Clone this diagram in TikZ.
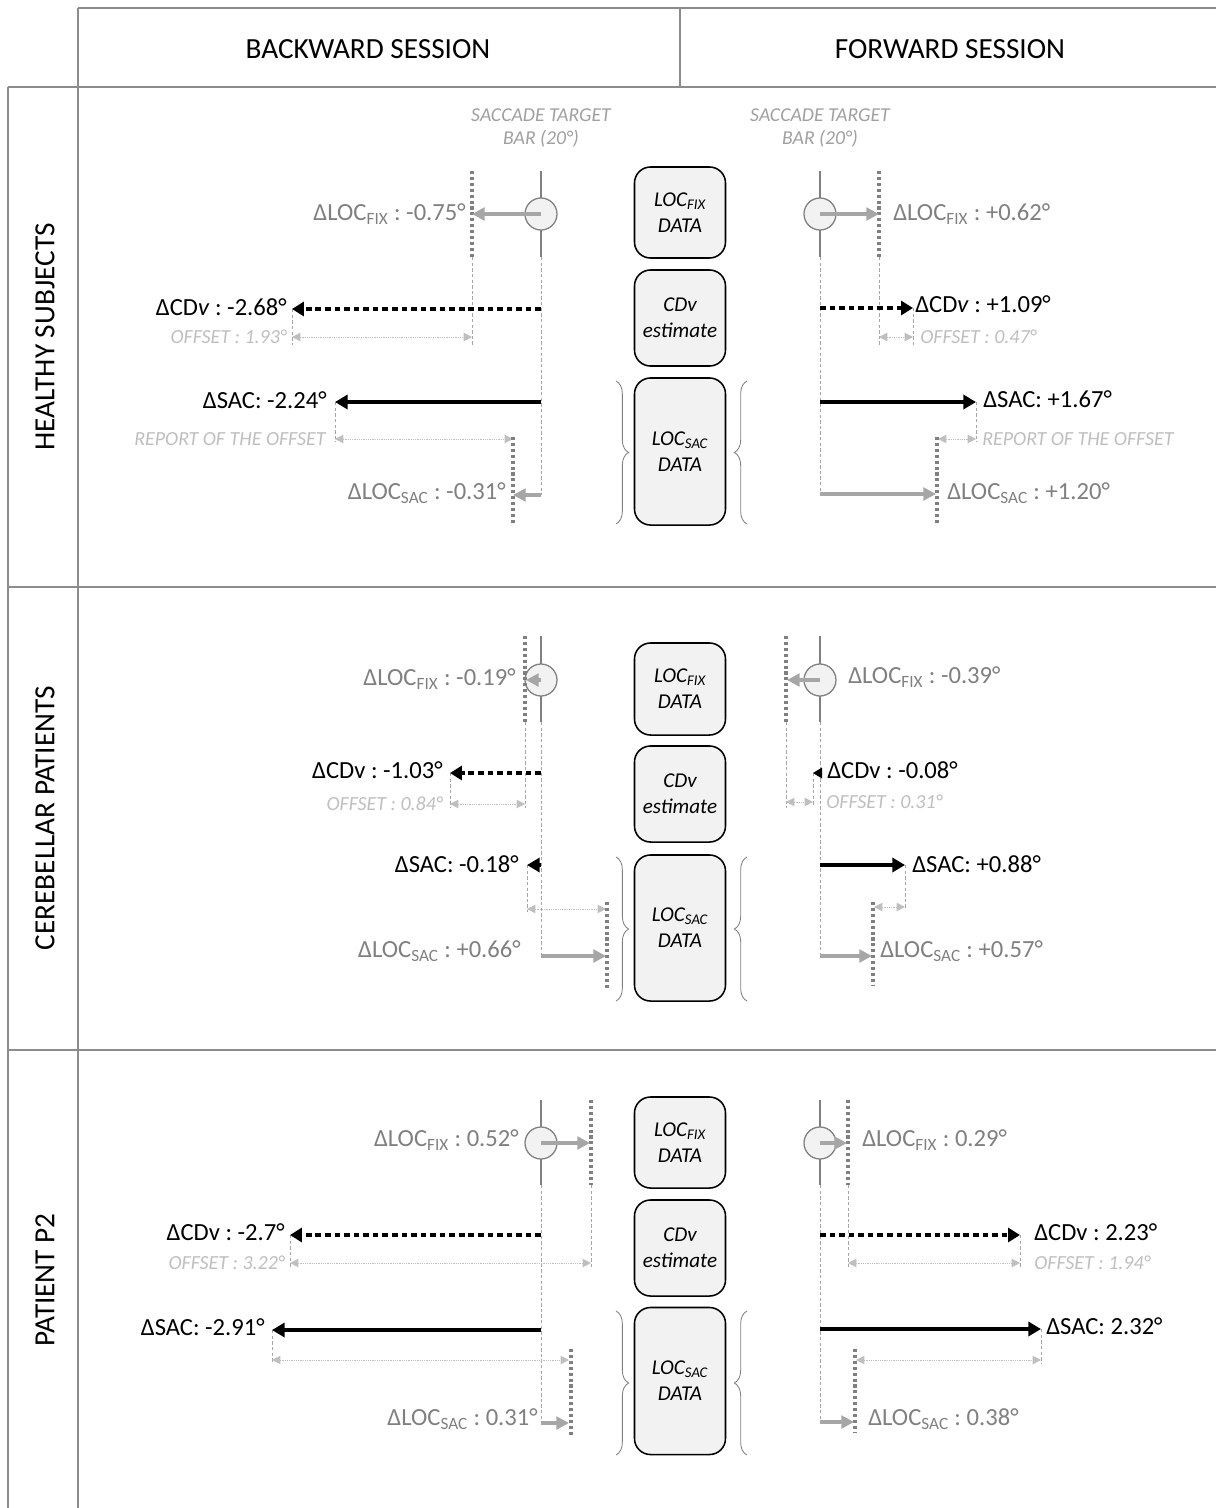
\documentclass[tikz,border=0pt]{standalone}
\usepackage{fontspec}
\setmainfont{Carlito}
\frenchspacing
\usetikzlibrary{arrows.meta,decorations.pathreplacing}
\definecolor{tabgray}{HTML}{8C8C8C}
\definecolor{bargray}{HTML}{808080}
\definecolor{locgray}{HTML}{A6A6A6}
\definecolor{guidegray}{HTML}{A6A6A6}
\definecolor{txtgray}{HTML}{808080}
\definecolor{offgray}{HTML}{BFBFBF}
\definecolor{tgtgray}{HTML}{A0A0A0}
\definecolor{boxfill}{HTML}{F2F2F2}
\begin{document}
\frenchspacing
\begin{tikzpicture}[x=0.025cm,y=-0.025cm,
  tline/.style={draw=tabgray,line width=0.8pt},
  hdr/.style={font=\fontsize{20.8}{24}\selectfont,inner sep=0pt},
  tbar/.style={draw=bargray,line width=1.8pt},
  fixdot/.style={circle,draw=bargray,fill=boxfill,line width=0.9pt,minimum size=0.8cm,inner sep=0pt},
  locline/.style={draw=bargray,line width=2.4pt,dash pattern=on 2.2pt off 2pt},
  guide/.style={draw=guidegray,line width=0.55pt,dash pattern=on 2.4pt off 1.6pt},
  locarrow/.style={draw=locgray,line width=2.6pt,-{Triangle[length=9pt,width=9pt]}},
  cdvarrow/.style={draw=black,line width=2.6pt,dash pattern=on 4pt off 2.8pt,-{Triangle[length=8.5pt,width=10pt]}},
  sacarrow/.style={draw=black,line width=2.9pt,-{Triangle[length=9pt,width=10pt]}},
  offarrow/.style={draw=offgray,line width=0.7pt,dash pattern=on 0.8pt off 0.8pt,{Triangle[length=6pt,width=6pt]}-{Triangle[length=6pt,width=6pt]}},
  databox/.style={draw=black,line width=1.1pt,fill=boxfill,rounded corners=0.4cm,minimum width=2.275cm,align=center,inner sep=0pt,font=\fontsize{15}{18.5}\selectfont\itshape},
  mybrace/.style={draw=bargray,line width=0.6pt,decorate,decoration={brace,amplitude=9pt}},
  blab/.style={font=\fontsize{17.5}{21}\selectfont,text=black,inner sep=0pt},
  glab/.style={blab,text=txtgray},
  olab/.style={font=\fontsize{14.2}{16}\selectfont\itshape,text=offgray,inner sep=0pt},
  tlab/.style={font=\fontsize{14}{17}\selectfont\itshape,text=tgtgray,align=center,inner sep=0pt}
]
\useasboundingbox (0,0) rectangle (1216,1508);
\fill[white] (0,0) rectangle (1216,1508);

% ---------------- table ----------------
\draw[tline] (78,8) -- (1216,8);
\draw[tline] (78,8) -- (78,1508);
\draw[tline] (680,8) -- (680,87);
\draw[tline,line width=1.4pt] (8,87) -- (1216,87);
\draw[tline] (8,87) -- (8,1508);
\draw[tline] (8,587) -- (1216,587);
\draw[tline] (8,1050) -- (1216,1050);

\node[hdr] (hB) at (368,49) {BACKWARD SESSION};
\node[hdr] (hF) at (950,49) {FORWARD SESSION};
\node[hdr,rotate=90] (r1) at (45,337) {HEALTHY SUBJECTS};
\node[hdr,rotate=90] (r2) at (45,818) {CEREBELLAR PATIENTS};
\node[hdr,rotate=90] (r3) at (45,1280) {PATIENT P2};

\node[tlab] (tgB) at (541,128) {SACCADE TARGET\\BAR (20°)};
\node[tlab] (tgF) at (820,128) {SACCADE TARGET\\BAR (20°)};

% ---------------- central boxes ----------------
\node[databox,minimum height=2.275cm] (bx1a) at (680,212.5) {LOC\textsubscript{FIX}\\DATA};
\node[databox,minimum height=2.4cm] (bx1b) at (680,318) {CDv\\estimate};
\node[databox,minimum height=3.675cm] (bx1c) at (680,451.5) {LOC\textsubscript{SAC}\\DATA};
\node[databox,minimum height=2.3cm] (bx2a) at (680,689) {LOC\textsubscript{FIX}\\DATA};
\node[databox,minimum height=2.4cm] (bx2b) at (680,794) {CDv\\estimate};
\node[databox,minimum height=3.65cm] (bx2c) at (680,928) {LOC\textsubscript{SAC}\\DATA};
\node[databox,minimum height=2.275cm] (bx3a) at (680,1142.5) {LOC\textsubscript{FIX}\\DATA};
\node[databox,minimum height=2.4cm] (bx3b) at (680,1248) {CDv\\estimate};
\node[databox,minimum height=3.675cm] (bx3c) at (680,1381) {LOC\textsubscript{SAC}\\DATA};

\draw[mybrace] (616,381) -- (616,524);
\draw[mybrace] (747,524) -- (747,381);
\draw[mybrace] (616,857) -- (616,1001);
\draw[mybrace] (747,1001) -- (747,857);
\draw[mybrace] (616,1311) -- (616,1455);
\draw[mybrace] (747,1455) -- (747,1311);

% ================= ROW 1 BACKWARD =================
\coordinate (B1t) at (541,171); \coordinate (B1b) at (541,257);
\coordinate (B1ft) at (472,171); \coordinate (B1fb) at (472,257);
\coordinate (B1fx) at (472,214);
\coordinate (B1c0) at (541,309); \coordinate (B1c1) at (292,309);
\coordinate (B1o0) at (292,337); \coordinate (B1o1) at (472,337);
\coordinate (B1s0) at (541,402); \coordinate (B1s1) at (335,402);
\coordinate (B1r0) at (335,439); \coordinate (B1r1) at (513,439);
\coordinate (B1lt) at (513,437); \coordinate (B1lb) at (513,523);
\coordinate (B1l0) at (541,495); \coordinate (B1l1) at (513,495);
\draw[guide] (B1b) -- (B1l0);
\draw[guide] (B1fb) -- (472,345);
\draw[guide] (B1c1) -- (292,345);
\draw[guide] (B1s1) -- (335,442);
\draw[tbar] (B1t) -- (B1b);
\node[fixdot] (B1c) at (541,214) {};
\draw[locline] (B1ft) -- (B1fb);
\draw[locarrow] (B1c.center) -- (B1fx);
\node[glab,anchor=east] (B1fl) at (466,214) {ΔLOC\textsubscript{FIX} : -0.75°};
\draw[cdvarrow] (B1c0) -- (B1c1);
\node[blab,anchor=east] (B1cl) at (287,307) {ΔCD\textit{v} : -2.68°};
\draw[offarrow] (B1o0) -- (B1o1);
\node[olab,anchor=east] (B1ol) at (287,337) {OFFSET : 1.93°};
\draw[sacarrow] (B1s0) -- (B1s1);
\node[blab,anchor=east] (B1sl) at (327,400) {ΔSAC: -2.24°};
\draw[offarrow] (B1r0) -- (B1r1);
\node[olab,anchor=east] (B1rl) at (326,439) {REPORT OF THE OFFSET};
\draw[locline] (B1lt) -- (B1lb);
\draw[locarrow] (B1l0) -- (B1l1);
\node[glab,anchor=east] (B1ll) at (506,493) {ΔLOC\textsubscript{SAC} : -0.31°};

% ================= ROW 1 FORWARD =================
\coordinate (F1t) at (820,171); \coordinate (F1b) at (820,257);
\coordinate (F1ft) at (879,171); \coordinate (F1fb) at (879,257);
\coordinate (F1fx) at (879,214);
\coordinate (F1c0) at (820,308); \coordinate (F1c1) at (913,308);
\coordinate (F1o0) at (879,337); \coordinate (F1o1) at (913,337);
\coordinate (F1s0) at (820,402); \coordinate (F1s1) at (976,402);
\coordinate (F1r0) at (938,439); \coordinate (F1r1) at (976,439);
\coordinate (F1lt) at (937,437); \coordinate (F1lb) at (937,523);
\coordinate (F1l0) at (820,494); \coordinate (F1l1) at (936,494);
\draw[guide] (F1b) -- (F1l0);
\draw[guide] (F1fb) -- (879,345);
\draw[guide] (F1c1) -- (913,345);
\draw[guide] (F1s1) -- (976,442);
\draw[tbar] (F1t) -- (F1b);
\node[fixdot] (F1c) at (820,214) {};
\draw[locline] (F1ft) -- (F1fb);
\draw[locarrow] (F1c.center) -- (F1fx);
\node[glab,anchor=west] (F1fl) at (893,214) {ΔLOC\textsubscript{FIX} : +0.62°};
\draw[cdvarrow] (F1c0) -- (F1c1);
\node[blab,anchor=west] (F1cl) at (915,304) {ΔCD\textit{v} : +1.09°};
\draw[offarrow] (F1o0) -- (F1o1);
\node[olab,anchor=west] (F1ol) at (920,337) {OFFSET : 0.47°};
\draw[sacarrow] (F1s0) -- (F1s1);
\node[blab,anchor=west] (F1sl) at (983,399) {ΔSAC: +1.67°};
\draw[offarrow] (F1r0) -- (F1r1);
\node[olab,anchor=west] (F1rl) at (982,439) {REPORT OF THE OFFSET};
\draw[locline] (F1lt) -- (F1lb);
\draw[locarrow] (F1l0) -- (F1l1);
\node[glab,anchor=west] (F1ll) at (947,493) {ΔLOC\textsubscript{SAC} : +1.20°};

% ================= ROW 2 BACKWARD =================
\coordinate (B2t) at (541,636); \coordinate (B2b) at (541,722);
\coordinate (B2ft) at (525,636); \coordinate (B2fb) at (525,722);
\coordinate (B2fx) at (526,680);
\coordinate (B2c0) at (541,773); \coordinate (B2c1) at (450,773);
\coordinate (B2o0) at (450,804); \coordinate (B2o1) at (525,804);
\coordinate (B2s0) at (541,865); \coordinate (B2s1) at (527,865);
\coordinate (B2r0) at (527,909); \coordinate (B2r1) at (606,909);
\coordinate (B2lt) at (607,902); \coordinate (B2lb) at (607,988);
\coordinate (B2l0) at (541,956); \coordinate (B2l1) at (606,956);
\draw[guide] (B2b) -- (B2l0);
\draw[guide] (B2fb) -- (525,808);
\draw[guide] (B2c1) -- (450,808);
\draw[guide] (B2s1) -- (527,912);
\draw[tbar] (B2t) -- (B2b);
\node[fixdot] (B2c) at (541,680) {};
\draw[locline] (B2ft) -- (B2fb);
\draw[locarrow] (B2c.center) -- (B2fx);
\node[glab,anchor=east] (B2fl) at (516,679) {ΔLOC\textsubscript{FIX} : -0.19°};
\draw[cdvarrow] (B2c0) -- (B2c1);
\node[blab,anchor=east] (B2cl) at (443,770) {ΔCDv : -1.03°};
\draw[offarrow] (B2o0) -- (B2o1);
\node[olab,anchor=east] (B2ol) at (443,804) {OFFSET : 0.84°};
\draw[sacarrow] (B2s0) -- (B2s1);
\node[blab,anchor=east] (B2sl) at (519,864) {ΔSAC: -0.18°};
\draw[offarrow] (B2r0) -- (B2r1);
\draw[locline] (B2lt) -- (B2lb);
\draw[locarrow] (B2l0) -- (B2l1);
\node[glab,anchor=east] (B2ll) at (521,951) {ΔLOC\textsubscript{SAC} : +0.66°};

% ================= ROW 2 FORWARD =================
\coordinate (F2t) at (820,636); \coordinate (F2b) at (820,722);
\coordinate (F2ft) at (786,636); \coordinate (F2fb) at (786,722);
\coordinate (F2fx) at (787,680);
\coordinate (F2c1) at (813,773);
\coordinate (F2o0) at (786,802); \coordinate (F2o1) at (813,802);
\coordinate (F2s0) at (820,865); \coordinate (F2s1) at (905,865);
\coordinate (F2r0) at (874,907); \coordinate (F2r1) at (905,907);
\coordinate (F2lt) at (873,902); \coordinate (F2lb) at (873,986);
\coordinate (F2l0) at (820,956); \coordinate (F2l1) at (872,956);
\draw[guide] (F2b) -- (F2l0);
\draw[guide] (F2fb) -- (786,808);
\draw[guide] (F2c1) -- (813,806);
\draw[guide] (F2s1) -- (905,910);
\draw[tbar] (F2t) -- (F2b);
\node[fixdot] (F2c) at (820,680) {};
\draw[locline] (F2ft) -- (F2fb);
\draw[locarrow] (F2c.center) -- (F2fx);
\node[glab,anchor=west] (F2fl) at (848,677) {ΔLOC\textsubscript{FIX} : -0.39°};
\fill[black] (F2c1) -- ++(9,-5.5) -- ++(0,11) -- cycle;
\node[blab,anchor=west] (F2cl) at (827,770) {ΔCDv : -0.08°};
\draw[offarrow] (F2o0) -- (F2o1);
\node[olab,anchor=west] (F2ol) at (826,802) {OFFSET : 0.31°};
\draw[sacarrow] (F2s0) -- (F2s1);
\node[blab,anchor=west] (F2sl) at (912,864) {ΔSAC: +0.88°};
\draw[offarrow] (F2r0) -- (F2r1);
\draw[locline] (F2lt) -- (F2lb);
\draw[locarrow] (F2l0) -- (F2l1);
\node[glab,anchor=west] (F2ll) at (880,951) {ΔLOC\textsubscript{SAC} : +0.57°};

% ================= ROW 3 BACKWARD =================
\coordinate (B3t) at (541,1100); \coordinate (B3b) at (541,1185);
\coordinate (B3ft) at (591,1100); \coordinate (B3fb) at (591,1185);
\coordinate (B3fx) at (590,1143);
\coordinate (B3c0) at (541,1235); \coordinate (B3c1) at (290,1235);
\coordinate (B3o0) at (290,1263); \coordinate (B3o1) at (591,1263);
\coordinate (B3s0) at (541,1330); \coordinate (B3s1) at (272,1330);
\coordinate (B3r0) at (272,1360); \coordinate (B3r1) at (569,1360);
\coordinate (B3lt) at (571,1349); \coordinate (B3lb) at (571,1435);
\coordinate (B3l0) at (541,1423); \coordinate (B3l1) at (569,1423);
\draw[guide] (B3b) -- (B3l0);
\draw[guide] (B3fb) -- (591,1268);
\draw[guide] (B3c1) -- (290,1268);
\draw[guide] (B3s1) -- (272,1363);
\draw[tbar] (B3t) -- (B3b);
\node[fixdot] (B3c) at (541,1143) {};
\draw[locline] (B3ft) -- (B3fb);
\draw[locarrow] (B3c.center) -- (B3fx);
\node[glab,anchor=east] (B3fl) at (519,1140) {ΔLOC\textsubscript{FIX} : 0.52°};
\draw[cdvarrow] (B3c0) -- (B3c1);
\node[blab,anchor=east] (B3cl) at (285,1232) {ΔCDv : -2.7°};
\draw[offarrow] (B3o0) -- (B3o1);
\node[olab,anchor=east] (B3ol) at (285,1263) {OFFSET : 3.22°};
\draw[sacarrow] (B3s0) -- (B3s1);
\node[blab,anchor=east] (B3sl) at (265,1327) {ΔSAC: -2.91°};
\draw[offarrow] (B3r0) -- (B3r1);
\draw[locline] (B3lt) -- (B3lb);
\draw[locarrow] (B3l0) -- (B3l1);
\node[glab,anchor=east] (B3ll) at (538,1419) {ΔLOC\textsubscript{SAC} : 0.31°};

% ================= ROW 3 FORWARD =================
\coordinate (F3t) at (820,1100); \coordinate (F3b) at (820,1185);
\coordinate (F3ft) at (848,1100); \coordinate (F3fb) at (848,1185);
\coordinate (F3fx) at (847,1143);
\coordinate (F3c0) at (820,1235); \coordinate (F3c1) at (1020,1235);
\coordinate (F3o0) at (848,1263); \coordinate (F3o1) at (1020,1263);
\coordinate (F3s0) at (820,1329); \coordinate (F3s1) at (1041,1329);
\coordinate (F3r0) at (856,1360); \coordinate (F3r1) at (1041,1360);
\coordinate (F3lt) at (855,1349); \coordinate (F3lb) at (855,1433);
\coordinate (F3l0) at (820,1422); \coordinate (F3l1) at (854,1422);
\draw[guide] (F3b) -- (F3l0);
\draw[guide] (F3fb) -- (848,1268);
\draw[guide] (F3c1) -- (1020,1268);
\draw[guide] (F3s1) -- (1041,1363);
\draw[tbar] (F3t) -- (F3b);
\node[fixdot] (F3c) at (820,1143) {};
\draw[locline] (F3ft) -- (F3fb);
\draw[locarrow] (F3c.center) -- (F3fx);
\node[glab,anchor=west] (F3fl) at (862,1140) {ΔLOC\textsubscript{FIX} : 0.29°};
\draw[cdvarrow] (F3c0) -- (F3c1);
\node[blab,anchor=west] (F3cl) at (1034,1232) {ΔCDv : 2.23°};
\draw[offarrow] (F3o0) -- (F3o1);
\node[olab,anchor=west] (F3ol) at (1034,1263) {OFFSET : 1.94°};
\draw[sacarrow] (F3s0) -- (F3s1);
\node[blab,anchor=west] (F3sl) at (1046,1326) {ΔSAC: 2.32°};
\draw[offarrow] (F3r0) -- (F3r1);
\draw[locline] (F3lt) -- (F3lb);
\draw[locarrow] (F3l0) -- (F3l1);
\node[glab,anchor=west] (F3ll) at (868,1419) {ΔLOC\textsubscript{SAC} : 0.38°};
\end{tikzpicture}
\end{document}
